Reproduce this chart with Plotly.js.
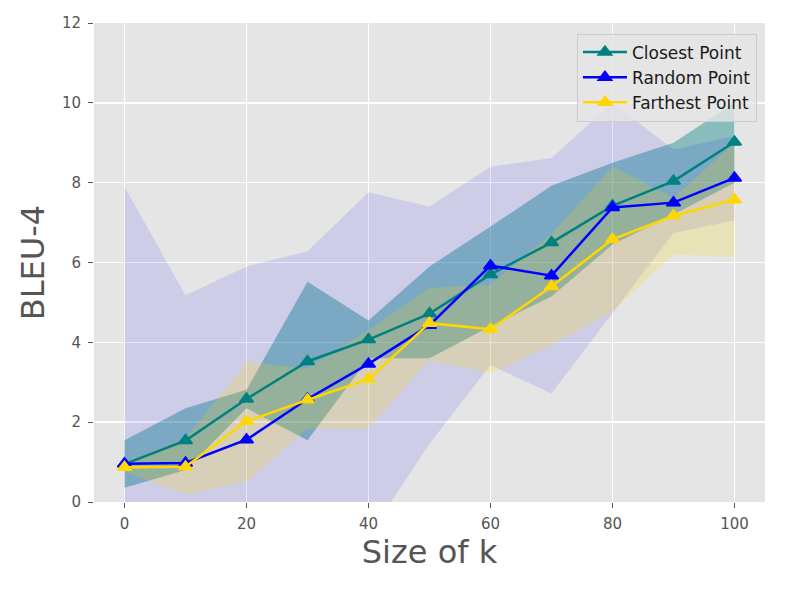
<!DOCTYPE html>
<html>
<head>
<meta charset="utf-8">
<script src="https://cdn.plot.ly/plotly-3.0.1.min.js"></script>
<style>
  html, body { margin: 0; padding: 0; background: #ffffff; }
  #chart { width: 789px; height: 592px; }
</style>
</head>
<body>
<div id="chart"></div>
<script>
(function () {
  // size of k
  var kVals = [0, 10, 20, 30, 40, 50, 60, 70, 80, 90, 100];

  // mean BLEU-4 per strategy
  var closestMean = [0.95, 1.54, 2.58, 3.52, 4.07, 4.72, 5.70, 6.50, 7.42, 8.04, 9.02];
  var randomMean = [0.96, 0.98, 1.56, 2.58, 3.46, 4.43, 5.92, 5.67, 7.38, 7.50, 8.12];
  var farthestMean = [0.87, 0.88, 2.02, 2.56, 3.08, 4.48, 4.33, 5.40, 6.58, 7.17, 7.57];

  // shaded spread (upper / lower edge)
  var closestUpper = [1.55, 2.35, 2.81, 5.52, 4.55, 5.90, 6.90, 7.92, 8.50, 9.00, 10.00];
  var closestLower = [0.36, 0.80, 2.35, 1.55, 3.60, 3.60, 4.40, 5.15, 6.45, 7.20, 8.00];
  var randomUpper = [7.90, 5.18, 5.90, 6.28, 7.76, 7.40, 8.40, 8.62, 10.00, 8.83, 9.17];
  var randomLower = [-6.00, -3.20, -2.80, -1.10, -0.86, 1.46, 3.43, 2.72, 4.73, 6.74, 7.05];
  var farthestUpper = [1.00, 1.60, 3.50, 3.35, 4.30, 5.36, 5.45, 6.72, 8.40, 7.62, 9.00];
  var farthestLower = [0.75, 0.19, 0.50, 1.84, 1.84, 3.56, 3.22, 3.93, 4.77, 6.20, 6.14];

  var xTicks = [0, 20, 40, 60, 80, 100];
  var yTicks = [0, 2, 4, 6, 8, 10, 12];

  var series = [
    { name: "Closest Point", color: "#008080", fill: "rgba(0,128,128,0.4)", mean: closestMean, lo: closestLower, hi: closestUpper },
    { name: "Random Point", color: "#0000ff", fill: "rgba(0,0,255,0.1)", mean: randomMean, lo: randomLower, hi: randomUpper },
    { name: "Farthest Point", color: "#ffd700", fill: "rgba(255,215,0,0.2)", mean: farthestMean, lo: farthestLower, hi: farthestUpper },
  ];

  var traces = [];

  // bands first, so every line sits above every fill
  series.forEach(function (s) {
    traces.push({
      x: kVals,
      y: s.lo,
      type: "scatter",
      mode: "lines",
      line: { width: 0, color: s.fill },
      hoverinfo: "skip",
      showlegend: false,
    });
    traces.push({
      x: kVals,
      y: s.hi,
      type: "scatter",
      mode: "lines",
      fill: "tonexty",
      fillcolor: s.fill,
      line: { width: 0, color: s.fill },
      hoverinfo: "skip",
      showlegend: false,
    });
  });

  series.forEach(function (s) {
    traces.push({
      x: kVals,
      y: s.mean,
      type: "scatter",
      mode: "lines+markers",
      name: s.name,
      line: { color: s.color, width: 2.5 },
      marker: { symbol: "triangle-up", size: 12, color: s.color, line: { color: s.color, width: 1.5 } },
    });
  });

  var axisFont = { family: "DejaVu Sans, sans-serif", size: 15, color: "#555555" };

  var layout = {
    width: 789,
    height: 592,
    margin: { l: 94, r: 24, t: 23, b: 90 },
    paper_bgcolor: "#ffffff",
    plot_bgcolor: "#e5e5e5",
    font: { family: "DejaVu Sans, sans-serif", color: "#555555" },
    showlegend: true,
    xaxis: {
      range: [-5, 105],
      tickmode: "array",
      tickvals: xTicks,
      ticks: "outside",
      ticklen: 5,
      tickwidth: 1,
      tickcolor: "#555555",
      tickfont: axisFont,
      ticklabelstandoff: 3,
      showgrid: true,
      gridcolor: "#ffffff",
      gridwidth: 1.5,
      zeroline: false,
      showline: false,
      title: { text: "Size of k", font: { family: "DejaVu Sans, sans-serif", size: 32, color: "#555555" }, standoff: 6 },
      automargin: false,
    },
    yaxis: {
      range: [0, 12],
      tickmode: "array",
      tickvals: yTicks,
      ticks: "outside",
      ticklen: 5,
      tickwidth: 1,
      tickcolor: "#555555",
      tickfont: axisFont,
      ticklabelstandoff: 4,
      showgrid: true,
      gridcolor: "#ffffff",
      gridwidth: 1.5,
      zeroline: false,
      showline: false,
      title: { text: "BLEU-4", font: { family: "DejaVu Sans, sans-serif", size: 32, color: "#555555" }, standoff: 7 },
      automargin: false,
    },
    legend: {
      x: 0.988,
      y: 0.978,
      xanchor: "right",
      yanchor: "top",
      traceorder: "normal",
      itemwidth: 44,
      bgcolor: "rgba(229,229,229,0.8)",
      bordercolor: "#cccccc",
      borderwidth: 1,
      font: { family: "DejaVu Sans, sans-serif", size: 17, color: "#1a1a1a" },
      tracegroupgap: 0,
    },
  };

  Plotly.newPlot("chart", traces, layout, { displayModeBar: false, staticPlot: true });
})();
</script>
</body>
</html>
